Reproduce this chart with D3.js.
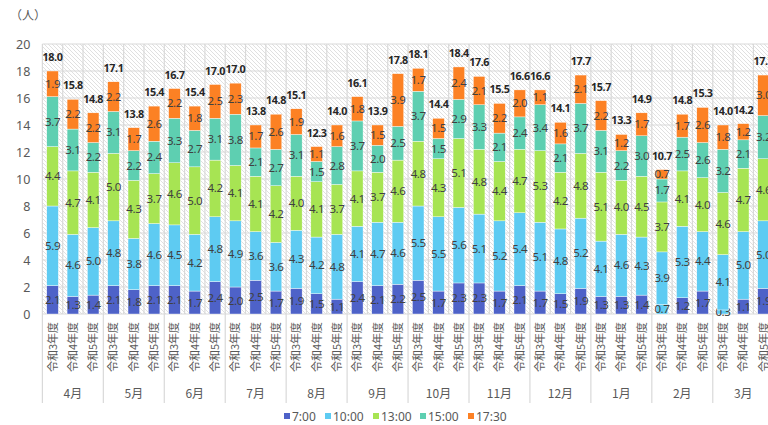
<!DOCTYPE html>
<html lang="ja">
<head>
<meta charset="utf-8">
<script src="https://cdn.jsdelivr.net/npm/d3@7/dist/d3.min.js"></script>
<style>
  html, body { margin: 0; padding: 0; background: #fff; overflow: hidden; }
  svg { display: block; font-family: "Noto Sans CJK JP", "Noto Sans", sans-serif; }
</style>
</head>
<body>
<svg id="chart" width="790" height="425"></svg>
<script>
// Months of the fiscal year and the three fiscal years compared in each
const months = ["4月","5月","6月","7月","8月","9月","10月","11月","12月","1月","2月","3月"];
const years = ["令和3年度","令和4年度","令和5年度"];
const seriesNames = ["7:00","10:00","13:00","15:00","17:30"];

// Values per bar, month by month (令和3, 令和4, 令和5 within each month)
const v0700 = [2.1,1.3,1.4, 2.1,1.8,2.1, 2.1,1.7,2.4, 2.0,2.5,1.7, 1.9,1.5,1.1, 2.4,2.1,2.2,
               2.5,1.7,2.3, 2.3,1.7,2.1, 1.7,1.5,1.9, 1.3,1.3,1.4, 0.7,1.2,1.7, 0.3,1.1,1.9];
const v1000 = [5.9,4.6,5.0, 4.8,3.8,4.6, 4.5,4.2,4.8, 4.9,3.6,3.6, 4.3,4.2,4.8, 4.1,4.7,4.6,
               5.5,5.5,5.6, 5.1,5.2,5.4, 5.1,4.8,5.2, 4.1,4.6,4.3, 3.9,5.3,4.4, 4.1,5.0,5.0];
const v1300 = [4.4,4.7,4.1, 5.0,4.3,3.7, 4.6,5.0,4.2, 4.1,4.1,4.2, 4.0,4.1,3.7, 4.1,3.7,4.6,
               4.8,4.3,5.1, 4.8,4.4,4.7, 5.3,4.2,4.8, 5.1,4.0,4.5, 3.7,4.1,4.0, 4.6,4.7,4.6];
const v1500 = [3.7,3.1,2.2, 3.1,2.2,2.4, 3.3,2.7,3.1, 3.8,2.1,2.7, 3.1,1.5,2.8, 3.7,2.0,2.5,
               3.7,1.5,2.9, 3.3,2.1,2.4, 3.4,2.1,3.7, 3.1,2.2,3.0, 1.7,2.5,2.6, 3.2,2.1,3.2];
const v1730 = [1.9,2.2,2.2, 2.2,1.7,2.6, 2.2,1.8,2.5, 2.3,1.7,2.6, 1.9,1.1,1.6, 1.8,1.5,3.9,
               1.7,1.5,2.4, 2.1,2.2,2.0, 1.1,1.6,2.1, 2.2,1.2,1.7, 0.7,1.7,2.6, 1.8,1.2,3.0];
const totals = [18.0,15.8,14.8, 17.1,13.8,15.4, 16.7,15.4,17.0, 17.0,13.8,14.8, 15.1,12.3,14.0, 16.1,13.9,17.8,
                18.1,14.4,18.4, 17.6,15.5,16.6, 16.6,14.1,17.7, 15.7,13.3,14.9, 10.7,14.8,15.3, 14.0,14.2,17.7];
const yTicks = [0,2,4,6,8,10,12,14,16,18,20];

const colors = ["#4e62c8","#5ecbf2","#a7e453","#5ecfb1","#fc8124"];

// Build one row per bar
const rows = [];
months.forEach((m, mi) => years.forEach((yr, yi) => {
  const i = mi * 3 + yi;
  rows.push({ key: m + "|" + yr, month: m, year: yr, idx: i,
    "7:00": v0700[i], "10:00": v1000[i], "13:00": v1300[i], "15:00": v1500[i], "17:30": v1730[i],
    total: totals[i] });
}));

const svg = d3.select("#chart");
const plotL = 42.4, plotR = 773.7, plotT = 44, plotB = 314;

const x = d3.scaleBand().domain(rows.map(r => r.key)).range([plotL, plotR])
  .paddingInner(0.43).paddingOuter(0.215);
const slot = x.step();
const y = d3.scaleLinear().domain([0, 20]).range([plotB, plotT]);

// Hatched plot background
const defs = svg.append("defs");
const pat = defs.append("pattern").attr("id", "hatch").attr("patternUnits", "userSpaceOnUse")
  .attr("width", 4).attr("height", 4);
pat.append("rect").attr("width", 4).attr("height", 4).attr("fill", "#fff");
pat.append("path").attr("d", "M-1,-1 L5,5 M-1,3 L1,5 M3,-1 L5,1")
  .attr("stroke", "#dcdcdc").attr("stroke-width", 0.9);
svg.append("rect").attr("x", plotL).attr("y", plotT).attr("width", plotR - plotL)
  .attr("height", plotB - plotT).attr("fill", "url(#hatch)");

// Horizontal gridlines
svg.append("g").selectAll("line").data(yTicks).join("line")
  .attr("x1", plotL).attr("x2", plotR)
  .attr("y1", d => y(d)).attr("y2", d => y(d))
  .attr("stroke", "#d9d9d9").attr("stroke-width", 1.2);

// Vertical gridlines at every bar slot
const slotEdges = d3.range(rows.length + 1).map(i => plotL + i * slot);
svg.append("g").selectAll("line").data(slotEdges).join("line")
  .attr("x1", d => d).attr("x2", d => d).attr("y1", plotT).attr("y2", plotB)
  .attr("stroke", "#d9d9d9").attr("stroke-width", 1.2);

// Month separators below the axis
const monthEdges = d3.range(months.length + 1).map(i => plotL + i * 3 * slot);
svg.append("g").selectAll("line").data(monthEdges).join("line")
  .attr("x1", d => d).attr("x2", d => d).attr("y1", plotB).attr("y2", 403)
  .attr("stroke", "#d9d9d9").attr("stroke-width", 1.2);

// Y axis labels
const yAxis = svg.append("g").attr("transform", `translate(${plotL - 12},0)`)
  .call(d3.axisLeft(y).tickValues(yTicks).tickSize(0).tickPadding(0));
yAxis.select(".domain").remove();
yAxis.selectAll("text").attr("font-size", 12.5).attr("fill", "#595959")
  .attr("font-family", "'Noto Sans', sans-serif");

svg.append("text").attr("x", 10).attr("y", 20).attr("font-size", 12).attr("fill", "#595959")
  .text("（人）");

// Stacked bars
const stack = d3.stack().keys(seriesNames)(rows);
// 令和3年度 in 2月 and 3月 show their 7:00 block in the 10:00 fill
const lightBase = new Set(["2月|令和3年度", "3月|令和3年度"]);
const barW = x.bandwidth();

const layers = svg.append("g").selectAll("g").data(stack).join("g");
layers.selectAll("rect").data((s, si) => s.map(d => ({ d, si }))).join("rect")
  .attr("x", o => x(o.d.data.key)).attr("width", barW)
  .attr("y", o => y(o.d[1])).attr("height", o => y(o.d[0]) - y(o.d[1]))
  .attr("fill", o => (o.si === 0 && lightBase.has(o.d.data.key)) ? colors[1] : colors[o.si])
  .attr("stroke", "#ffffff").attr("stroke-width", 0.4);

// Segment value labels
layers.selectAll("text").data((s, si) => s.map(d => ({ d, si }))).join("text")
  .attr("x", o => x(o.d.data.key) + barW / 2)
  .attr("y", o => (y(o.d[0]) + y(o.d[1])) / 2 + 4)
  .attr("text-anchor", "middle").attr("font-size", 11.5).attr("fill", "#404040")
  .attr("letter-spacing", -0.4)
  .attr("font-family", "'Noto Sans', sans-serif")
  .text(o => d3.format(".1f")(o.d.data[seriesNames[o.si]]));

// Total labels above each bar
const topLayer = stack[stack.length - 1];
svg.append("g").selectAll("text").data(topLayer).join("text")
  .attr("x", d => x(d.data.key) + barW / 2)
  .attr("y", d => y(d[1]) - 10)
  .attr("text-anchor", "middle").attr("font-size", 10.8).attr("font-weight", "bold")
  .attr("fill", "#262626").attr("letter-spacing", -0.4)
  .attr("font-family", "'Noto Sans', sans-serif")
  .text(d => d3.format(".1f")(d.data.total));

// Year labels, rotated
svg.append("g").selectAll("text").data(rows).join("text")
  .attr("transform", d => `translate(${x(d.key) + barW / 2 + 4},${plotB + 8}) rotate(-90)`)
  .attr("text-anchor", "end").attr("font-size", 11).attr("fill", "#595959")
  .text(d => d.year);

// Month labels
svg.append("g").selectAll("text").data(months).join("text")
  .attr("x", (m, i) => plotL + (i * 3 + 1.5) * slot).attr("y", 398)
  .attr("text-anchor", "middle").attr("font-size", 12).attr("fill", "#595959")
  .text(m => m);

// Legend
const legendX = [284, 325, 373, 420, 468];
const leg = svg.append("g").selectAll("g").data(seriesNames).join("g")
  .attr("transform", (d, i) => `translate(${legendX[i]},417)`);
leg.append("rect").attr("x", 0).attr("y", -4).attr("width", 6).attr("height", 6)
  .attr("fill", (d, i) => colors[i]);
leg.append("text").attr("x", 8).attr("y", 3.5).attr("font-size", 12).attr("fill", "#595959")
  .attr("font-family", "'Noto Sans', sans-serif")
  .text(d => d);
</script>
</body>
</html>
